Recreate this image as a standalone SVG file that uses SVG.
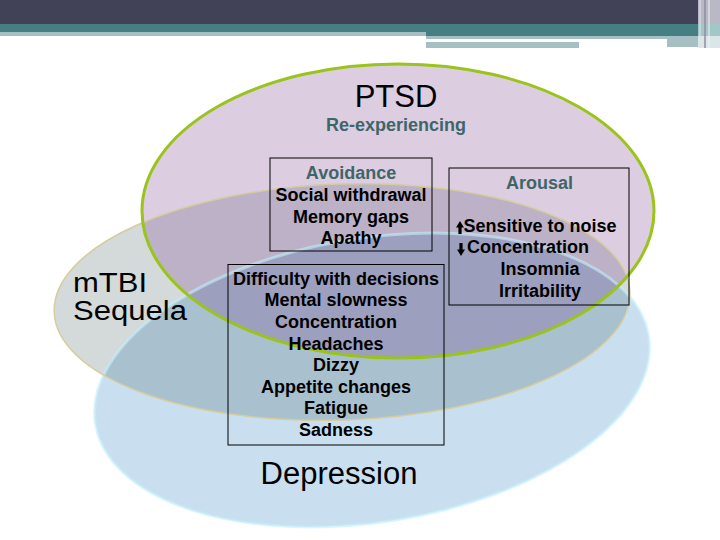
<svg xmlns="http://www.w3.org/2000/svg" width="720" height="540" viewBox="0 0 720 540">
<style>
.lbl{font-family:"Liberation Sans",Arial,sans-serif;font-weight:bold;font-size:18px;text-anchor:middle;fill:#000}
.hd{fill:#3f6569}
.big{font-family:"Liberation Sans",Arial,sans-serif;font-size:31px;fill:#000}
.side{font-family:"Liberation Sans",Arial,sans-serif;font-size:27px;fill:#000}
.box{fill:none;stroke:#000;stroke-width:1}
.arw{fill:#000}
</style>
<defs>
<ellipse id="eP" cx="398" cy="211" rx="256" ry="147"/>
<ellipse id="eG" cx="342" cy="302" rx="288" ry="118" transform="rotate(-2 342 302)"/>
<ellipse id="eB" cx="372" cy="380" rx="280" ry="142" transform="rotate(-9 372 380)"/>
<clipPath id="cG"><use href="#eG"/></clipPath>
<clipPath id="cB"><use href="#eB"/></clipPath>
</defs>
<rect width="720" height="540" fill="#fff"/>
<g id="header">
<rect x="0" y="0" width="720" height="24" fill="#414257"/>
<rect x="0" y="24" width="720" height="8" fill="#467f83"/>
<rect x="0" y="32" width="426" height="4" fill="#a5bfc2"/>
<rect x="426" y="32" width="272" height="4" fill="#467f83"/>
<rect x="426" y="36" width="272" height="3" fill="#a5bfc2"/>
<rect x="667" y="39" width="31" height="8" fill="#a5bfc2"/>
<rect x="426" y="42" width="153" height="6" fill="#a5bfc2"/>
<rect x="698" y="0" width="22" height="24" fill="#b9b8c6"/>
<rect x="698" y="24" width="22" height="12" fill="#a3c6c9"/>
<rect x="698" y="36" width="22" height="12" fill="#d9e7e9"/>
<line x1="700" y1="0" x2="700" y2="48" stroke="#e2e2ea" stroke-width="1"/>
<line x1="705" y1="0" x2="705" y2="48" stroke="#8d8ea0" stroke-width="1.5"/>
<line x1="709" y1="0" x2="709" y2="48" stroke="#f2f2f6" stroke-width="1"/>
</g>
<g id="sets">
<use href="#eB" fill="#c9dff0"/>
<use href="#eG" fill="#d4d9d9"/>
<use href="#eB" fill="#a9c0cf" clip-path="url(#cG)"/>
<use href="#eP" fill="#dccee0"/>
<use href="#eP" fill="#bcb1c7" clip-path="url(#cG)"/>
<use href="#eP" fill="#aab5d6" clip-path="url(#cB)"/>
<g clip-path="url(#cB)"><use href="#eP" fill="#9d9fbf" clip-path="url(#cG)"/></g>
<use href="#eB" fill="none" stroke="#c4eef8" stroke-width="3" stroke-opacity="0.6"/>
<use href="#eG" fill="none" stroke="#d6cc9e" stroke-width="1.5"/>
<use href="#eP" fill="none" stroke="#9ac31c" stroke-width="3"/>
</g>
<g id="connectors"/>
<g id="ptsd">
<text class="big" x="396" y="107" text-anchor="middle">PTSD</text>
<text class="lbl hd" x="396" y="131">Re-experiencing</text>
</g>
<g id="mtbi">
<text class="side" x="73" y="292" textLength="74" lengthAdjust="spacingAndGlyphs">mTBI</text>
<text class="side" x="73" y="320" textLength="114" lengthAdjust="spacingAndGlyphs">Sequela</text>
</g>
<g id="depression">
<text class="big" x="339" y="484" text-anchor="middle">Depression</text>
</g>
<g id="avoidance">
<rect class="box" x="270" y="158" width="162" height="93"/>
<text class="lbl hd" x="351" y="179">Avoidance</text>
<text class="lbl" x="351" y="201">Social withdrawal</text>
<text class="lbl" x="351" y="222.5">Memory gaps</text>
<text class="lbl" x="351" y="244">Apathy</text>
</g>
<g id="arousal">
<rect class="box" x="449" y="168" width="180" height="137"/>
<text class="lbl hd" x="539.5" y="189">Arousal</text>
<polygon class="arw" points="460,221 464,227.5 461.6,227.5 461.6,234 458.4,234 458.4,227.5 456,227.5"/>
<text class="lbl" x="540" y="231.7">Sensitive to noise</text>
<polygon class="arw" points="461,256 457,249.5 459.4,249.5 459.4,243 462.6,243 462.6,249.5 465,249.5"/>
<text class="lbl" x="528" y="253.3">Concentration</text>
<text class="lbl" x="540" y="275">Insomnia</text>
<text class="lbl" x="540" y="296.7">Irritability</text>
</g>
<g id="overlap">
<rect class="box" x="228" y="264.5" width="216" height="180.5"/>
<text class="lbl" x="336" y="284.7">Difficulty with decisions</text>
<text class="lbl" x="336" y="306.3">Mental slowness</text>
<text class="lbl" x="336" y="327.9">Concentration</text>
<text class="lbl" x="336" y="349.5">Headaches</text>
<text class="lbl" x="336" y="371.1">Dizzy</text>
<text class="lbl" x="336" y="392.7">Appetite changes</text>
<text class="lbl" x="336" y="414.3">Fatigue</text>
<text class="lbl" x="336" y="435.9">Sadness</text>
</g>
</svg>
